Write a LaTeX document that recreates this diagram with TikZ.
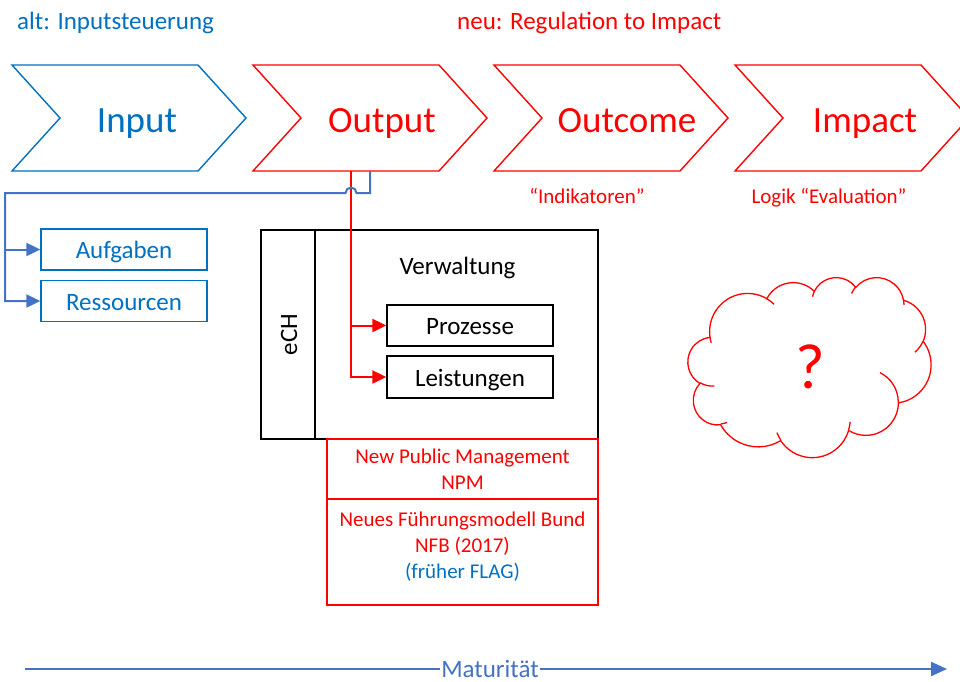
\documentclass[tikz,border=0pt]{standalone}
\usepackage{fontspec}
\setmainfont{Carlito}
\usetikzlibrary{arrows.meta}

\definecolor{msblue}{HTML}{0070C0}
\definecolor{accblue}{HTML}{4472C4}
\definecolor{msred}{HTML}{FF0000}

\newcommand\fsbig{\fontsize{37}{44}\selectfont}
\newcommand\fsmed{\fontsize{25}{30}\selectfont}
\newcommand\fssmall{\fontsize{21}{26}\selectfont}
\newcommand\fshuge{\fontsize{64}{70}\selectfont}

% chevron: name, left x, text x, colour, text
\newcommand\chevron[5]{%
  \draw[#4, chevline] (#2,65) -- ++(186,0) -- ++(48,53) -- ++(-48,53)
    -- ++(-186,0) -- ++(48,-53) -- cycle;
  \node[#4, chevtext, anchor=base] (#1) at (#3,132) {#5};}

% elliptic arc given with visual start/sweep angles (converted to parametric ones)
\newcommand\cloudang[4]{%
  \pgfmathparse{atan2((#1)*sin(#3),(#2)*cos(#3))}\let\cA\pgfmathresult
  \pgfmathparse{atan2((#1)*sin((#3)+(#4)),(#2)*cos((#3)+(#4)))}\let\cB\pgfmathresult
  \pgfmathparse{\cB-\cA}\let\cC\pgfmathresult
  \pgfmathparse{ifthenelse((#4)>0,ifthenelse(\cC<0,\cC+360,\cC),ifthenelse(\cC>0,\cC-360,\cC))}%
  \xdef\cloudS{\cA}\xdef\cloudD{\pgfmathresult}}
\newcommand\carc[4]{\pgfextra{\cloudang{#1}{#2}{#3}{#4}} arc[x radius=#1, y radius=#2, start angle=\cloudS, delta angle=\cloudD]}

\tikzset{
  chevline/.style={line width=1.4pt, line join=miter},
  chevtext/.style={font=\fsbig, inner sep=0pt},
  bbox/.style={draw=msblue, text=msblue, line width=1.3pt, minimum width=166pt,
    minimum height=41pt, inner sep=0pt, font=\fsmed, text height=18pt, text depth=0pt},
  kbox/.style={draw=black, line width=1.3pt, inner sep=0pt, font=\fsmed,
    text height=18pt, text depth=0pt},
  rbox/.style={draw=msred, text=msred, line width=1.3pt, inner sep=0pt, font=\fssmall,
    align=center, minimum width=271pt},
  bluecon/.style={draw=accblue, line width=2pt},
  redcon/.style={draw=msred, line width=2pt},
  headA/.style={-{Triangle[length=14pt,width=13pt]}},
  matline/.style={draw=accblue, line width=2.2pt, -{Triangle[length=16pt,width=14pt]}},
  cloudline/.style={draw=msred, line width=1.3pt},
}

\begin{document}
\begin{tikzpicture}[x=1pt, y=-1pt]
\useasboundingbox (0,0) rectangle (960,681);

% headings
\node[font=\fsmed, text=msblue, anchor=base west, inner sep=0pt] (alt) at (17,29) {alt: Inputsteuerung};
\node[font=\fsmed, text=msred, anchor=base west, inner sep=0pt] (neu) at (457,29) {neu: Regulation to Impact};

% value chain
\chevron{input}{12}{137}{msblue}{Input}
\chevron{output}{253}{382}{msred}{Output}
\chevron{outcome}{494}{627}{msred}{Outcome}
\chevron{impact}{735}{865}{msred}{Impact}

\node[font=\fssmall, text=msred, anchor=base, inner sep=0pt] (indik) at (587,203) {“Indikatoren”};
\node[font=\fssmall, text=msred, anchor=base, inner sep=0pt] (evallbl) at (829,203) {Logik “Evaluation”};

% input side
\node[bbox] (aufgaben) at (124,249.5) {Aufgaben};
\node[bbox] (ressourcen) at (124,301) {Ressourcen};

% administration block
\node[kbox, rotate=90, minimum width=209pt, minimum height=54pt] (ech) at (288,334.5) {eCH};
\node[kbox, minimum width=283pt, minimum height=209pt] (verwaltung) at (456.5,334.5) {};
\node[font=\fsmed, anchor=base, inner sep=0pt] (verwaltungtitel) at (457.5,274) {Verwaltung};
\node[kbox, minimum width=166pt, minimum height=41pt] (prozesse) at (470,325.5) {Prozesse};
\node[kbox, minimum width=166pt, minimum height=42pt] (leistungen) at (470,377) {Leistungen};

\node[rbox, minimum height=60pt] (npm) at (462.5,469) {New Public Management\\NPM};
\node[rbox, minimum height=106pt] (nfb) at (462.5,552)
  {Neues Führungsmodell Bund\\NFB (2017)\\\textcolor{msblue}{(früher FLAG)}\rule[-13pt]{0pt}{1pt}};

% connectors from Output
\coordinate (tapBlue) at (370,171);
\coordinate (tapRed) at (351,171);
\coordinate (busTop) at (5,193);
\coordinate (busA) at (5,249.5);
\coordinate (redA) at (351,325.5);

\draw[redcon, headA] (tapRed) |- (leistungen.west);
\draw[redcon, headA] (redA) -- (prozesse.west);

\draw[bluecon, headA] (tapBlue) -- (370,193) -- (356.5,193)
  arc[start angle=0, delta angle=-180, radius=5.5] -- (busTop) |- (ressourcen.west);
\draw[bluecon, headA] (busA) -- (aufgaben.west);

% open question
\begin{scope}[shift={(688,277)}, x=0.5625pt, y=-0.41667pt]
  \draw[cloudline] (39.00,143.70)
    \carc{67.53}{91.90}{-190.4875}{123.7805}
    \carc{53.33}{72.67}{-144.1024}{89.9452}
    \carc{43.65}{59.45}{-145.8079}{99.7230}
    \carc{48.57}{65.95}{-130.9861}{117.2417}
    \carc{53.33}{72.73}{-78.7089}{109.0269}
    \carc{67.75}{92.20}{-46.2673}{130.2690}
    \carc{57.85}{78.67}{0.6250}{114.0333}
    \carc{67.52}{92.15}{22.4516}{115.1726}
    \carc{77.20}{105.43}{66.2426}{75.7110}
    \carc{43.60}{59.18}{-274.9421}{146.7356}
    \carc{43.45}{59.45}{-246.8285}{152.5189}
    -- cycle;
  \draw[cloudline]
    (46.93,261.77) \carc{43.45}{59.45}{86.7420}{26.4295}
    (69.28,348.99) \carc{43.60}{59.18}{73.6105}{11.4475}
    (164.78,390.90) \carc{67.52}{92.15}{137.6242}{14.0811}
    (288.27,347.51) \carc{67.52}{92.15}{6.4533}{15.9984}
    (341.29,229.54) \carc{57.85}{78.67}{-70.2924}{70.9174}
    (417.98,153.54) \carc{53.33}{72.73}{30.3180}{27.7515}
    (383.24,54.26) \carc{48.57}{65.95}{-13.7443}{14.8589}
    (290.78,39.52) \carc{48.57}{65.95}{-149.1815}{18.1954}
    (221.41,47.20) \carc{43.65}{59.45}{-163.4943}{17.6864}
    (140.00,51.92) \carc{67.53}{91.90}{-66.7070}{12.3194}
    (41.27,157.89) \carc{67.53}{91.90}{157.6544}{11.8582};
\end{scope}
\node[font=\fshuge, text=msred, anchor=base, inner sep=0pt] (frage) at (810,388) {?};

% maturity axis
\coordinate (matL) at (25,669);
\coordinate (matR) at (947,669);
\draw[matline] (matL) -- (matR);
\node[font=\fsmed, text=accblue, fill=white, anchor=base, inner xsep=1.5pt, inner ysep=1pt] (maturitaet) at (490,677) {Maturität};
\end{tikzpicture}
\end{document}
